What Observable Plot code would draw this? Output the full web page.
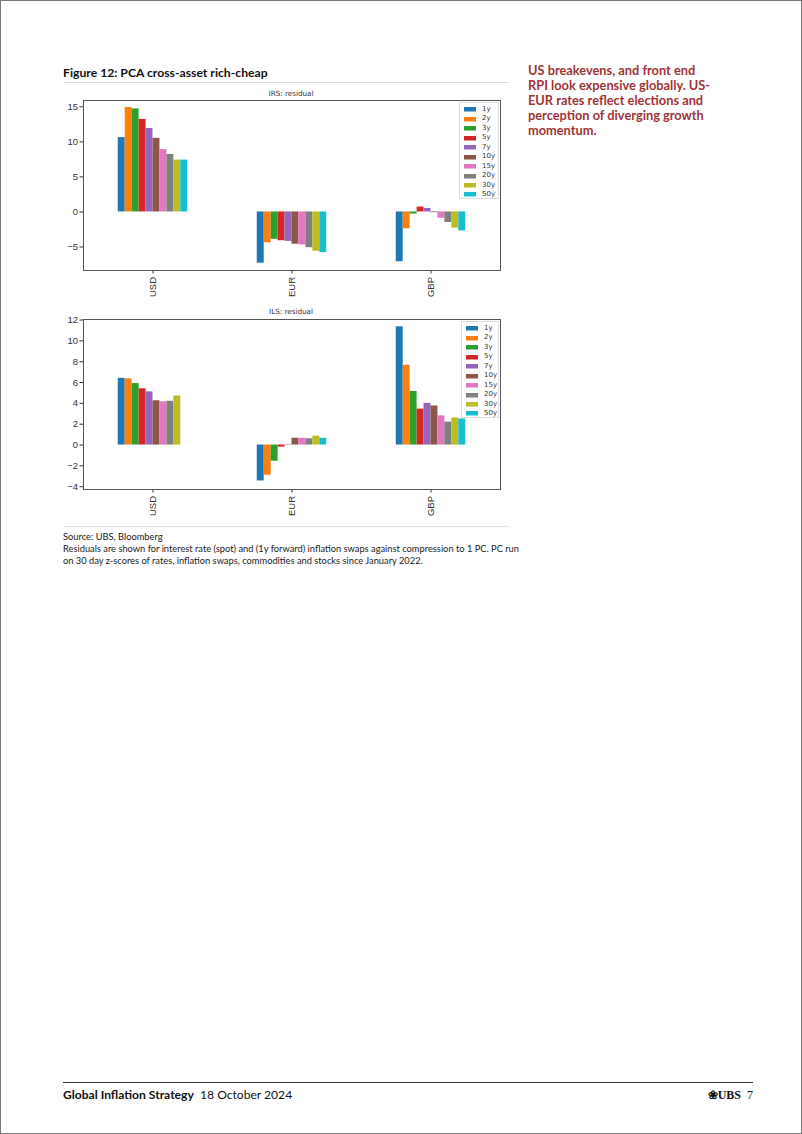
<!DOCTYPE html>
<html><head><meta charset="utf-8">
<script src="https://cdn.jsdelivr.net/npm/d3@7"></script>
<script src="https://cdn.jsdelivr.net/npm/@observablehq/plot@0.6"></script>
<style>
html,body{margin:0;padding:0;background:#fff;}
#page{position:relative;width:800px;height:1132px;border:1px solid #777;overflow:hidden;font-family:Lato,"Open Sans",sans-serif;color:#111;}
.abs{position:absolute;}
#figtitle{left:62px;top:64px;font-size:12.2px;font-weight:bold;line-height:16px;white-space:nowrap;}
.hr{position:absolute;height:0;border-top:1px solid #ddd;}
.ctitle{position:absolute;width:200px;text-align:center;font-family:"DejaVu Sans",sans-serif;font-size:7.2px;color:#333;line-height:10px;}
.chart{position:absolute;left:55px;}
.leg{position:absolute;border:1px solid #ddd;background:#fff;padding:2px 3px 1px 4px;box-sizing:border-box;overflow:visible;}
.leg *{overflow:visible !important;text-overflow:clip !important;}
.lgd-swatch{padding-bottom:0 !important;height:9.44px;line-height:9.44px;}
.lgd-swatch svg{margin-right:6px !important;}
#note{left:527px;top:62px;font-size:12.8px;font-weight:bold;line-height:15px;color:#a13437;width:184px;}
#source{left:62px;top:530px;font-size:9.3px;line-height:12px;width:460px;color:#222;}
#footer{left:62px;top:1086px;font-size:12.1px;line-height:16px;white-space:nowrap;}
#footright{left:690px;top:1086px;width:62px;text-align:right;font-size:12px;line-height:16px;font-family:"Liberation Serif",serif;font-weight:bold;}
</style></head>
<body>
<div id="page">
  <div id="figtitle" class="abs">Figure 12: PCA cross-asset rich-cheap</div>
  <div class="hr" style="left:62px;top:81px;width:446px;"></div>
  <div class="ctitle" style="left:190px;top:88px;">IRS: residual</div>
  <div id="chart1" class="chart" style="top:88px;"></div>
  <div id="leg1" class="leg" style="left:458px;top:101px;width:40px;height:97px;"></div>
  <div class="ctitle" style="left:190px;top:306px;">ILS: residual</div>
  <div id="chart2" class="chart" style="top:307px;"></div>
  <div id="leg2" class="leg" style="left:460px;top:320px;width:38px;height:97px;"></div>
  <div class="hr" style="left:62px;top:525px;width:446px;border-top-color:#e3e3e3;"></div>
  <div id="source" class="abs">Source: UBS, Bloomberg<br>Residuals are shown for interest rate (spot) and (1y forward) inflation swaps against compression to 1 PC. PC run on 30 day z-scores of rates, inflation swaps, commodities and stocks since January 2022.</div>
  <div id="note" class="abs">US breakevens, and front end RPI look expensive globally. US-EUR rates reflect elections and perception of diverging growth momentum.</div>
  <div class="hr" style="left:62px;top:1081px;width:690px;border-top-color:#333;"></div>
  <div id="footer" class="abs"><b>Global Inflation Strategy</b>&nbsp;&nbsp;18 October 2024</div>
  <div id="footright" class="abs">&#x2740;UBS&nbsp;&nbsp;<span style="font-weight:normal">7</span></div>
</div>
<script>
const currencies = ["USD", "EUR", "GBP"];
const tenors = ["1y","2y","3y","5y","7y","10y","15y","20y","30y","50y"];
const colors = ["#1f77b4","#ff7f0e","#2ca02c","#d62728","#9467bd","#8c564b","#e377c2","#7f7f7f","#bcbd22","#17becf"];

// IRS residuals by currency (per tenor)
const irsUSD = [10.6, 14.9, 14.7, 13.2, 11.9, 10.5, 8.9, 8.2, 7.4, 7.4];
const irsEUR = [-7.3, -4.4, -3.9, -4.1, -4.2, -4.6, -4.7, -5.1, -5.6, -5.8];
const irsGBP = [-7.1, -2.4, -0.3, 0.7, 0.5, -0.1, -0.9, -1.5, -2.3, -2.7];
// ILS residuals by currency (per tenor); USD 50y missing
const ilsUSD = [6.4, 6.35, 5.9, 5.4, 5.1, 4.25, 4.15, 4.2, 4.7, null];
const ilsEUR = [-3.45, -2.9, -1.55, -0.2, -0.05, 0.65, 0.65, 0.6, 0.85, 0.65];
const ilsGBP = [11.35, 7.65, 5.15, 3.45, 4.0, 3.75, 2.8, 2.2, 2.6, 2.5];

const irsTicks = [-5, 0, 5, 10, 15];
const ilsTicks = [-4, -2, 0, 2, 4, 6, 8, 10, 12];

function rows(series) {
  const out = [];
  series.forEach((vals, ci) => vals.forEach((v, ti) => {
    if (v != null) out.push({cur: currencies[ci], ci, tenor: tenors[ti], ti, value: v});
  }));
  return out;
}

const groupWidth = 0.5;
const barW = groupWidth / tenors.length;

function chart(data, yDomain, yTicks) {
  return Plot.plot({
    width: 450, height: 215,
    marginTop: 11, marginBottom: 34, marginLeft: 27, marginRight: 6,
    style: {fontSize: "9.5px", fontFamily: "'Liberation Sans', Arial, sans-serif", color: "#333", background: "transparent"},
    x: {domain: [-0.5, currencies.length - 0.5], ticks: d3.range(currencies.length), tickFormat: i => currencies[i], tickRotate: -90, tickSize: 3.5, tickPadding: 3, label: null},
    y: {domain: yDomain, ticks: yTicks, tickSize: 3.5, tickPadding: 2, label: null},
    color: {domain: tenors, range: colors},
    marks: [
      Plot.rectY(data, {
        x1: d => d.ci - groupWidth / 2 + d.ti * barW,
        x2: d => d.ci - groupWidth / 2 + (d.ti + 1) * barW,
        y: "value", fill: "tenor"
      }),
      Plot.frame({stroke: "#555", strokeWidth: 1})
    ]
  });
}

document.getElementById("chart1").append(chart(rows([irsUSD, irsEUR, irsGBP]), [-8.35, 15.9], irsTicks));
document.getElementById("chart2").append(chart(rows([ilsUSD, ilsEUR, ilsGBP]), [-4.27, 12.05], ilsTicks));

function legend() {
  return Plot.legend({
    color: {domain: tenors, range: colors},
    legend: "swatches", columns: 1, swatchWidth: 12, swatchHeight: 4.5,
    className: "lgd",
    style: {fontSize: "7px", fontFamily: "'DejaVu Sans', sans-serif", color: "#333", margin: 0, width: "32px"}
  });
}
document.getElementById("leg1").append(legend());
document.getElementById("leg2").append(legend());
</script>
</body></html>
